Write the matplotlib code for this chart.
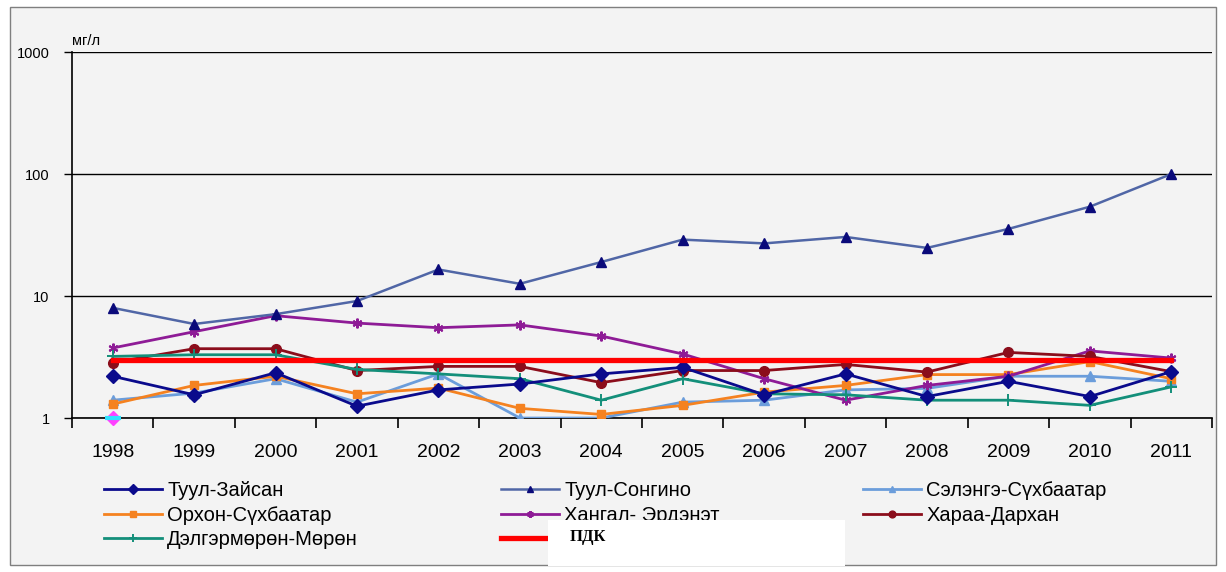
import matplotlib
matplotlib.use("Agg")
import matplotlib.pyplot as plt
from matplotlib.patches import Rectangle

plt.rcParams['font.family'] = ['Liberation Sans', 'DejaVu Sans']

years = ['1998', '1999', '2000', '2001', '2002', '2003', '2004',
         '2005', '2006', '2007', '2008', '2009', '2010', '2011']

tuul_zaisan = [2.2, 1.55, 2.35, 1.25, 1.7, 1.9, 2.3, 2.6, 1.55, 2.3, 1.5, 2.0, 1.5, 2.4]
tuul_songino = [8.0, 5.9, 7.1, 9.1, 16.5, 12.6, 19.0, 29.0, 27.0, 30.5, 24.8, 35.5, 54.0, 100.0]
selenge = [1.4, 1.6, 2.1, 1.35, 2.3, 1.0, 1.0, 1.35, 1.4, 1.7, 1.75, 2.2, 2.2, 2.0]
orhon = [1.3, 1.85, 2.2, 1.58, 1.76, 1.2, 1.07, 1.27, 1.63, 1.85, 2.27, 2.27, 2.9, 2.1]
hangal = [3.75, 5.1, 6.9, 6.0, 5.5, 5.8, 4.7, 3.35, 2.1, 1.4, 1.85, 2.2, 3.55, 3.1]
haraa = [2.85, 3.7, 3.7, 2.45, 2.65, 2.65, 1.95, 2.45, 2.45, 2.75, 2.38, 3.45, 3.2, 2.4]
delger = [3.2, 3.3, 3.3, 2.5, 2.3, 2.1, 1.4, 2.1, 1.58, 1.55, 1.4, 1.4, 1.27, 1.8]
pdk = [3.0, 3.0, 3.0, 3.0, 3.0, 3.0, 3.0, 3.0, 3.0, 3.0, 3.0, 3.0, 3.0, 3.0]
stray_point = [1.0]  # lone marker at 1998 on the axis

x = list(range(len(years)))

fig = plt.figure(figsize=(12.26, 5.72), dpi=100)
fig.patch.set_facecolor('white')
# chart frame, behind everything
frame = Rectangle((0.008, 0.012), 0.984, 0.975, transform=fig.transFigure,
                  facecolor='#f3f3f3', edgecolor='#7f7f7f', lw=1.0, zorder=-10)
fig.patches.append(frame)

ax = fig.add_axes([0.0587, 0.2692, 0.9299, 0.6398])
ax.set_facecolor('#f3f3f3')

h_zaisan, = ax.plot(x, tuul_zaisan, color='#0a0a8c', lw=2.0, marker='D', ms=7,
                    mfc='#0a0a8c', mec='#0a0a8c', zorder=5)
h_songino, = ax.plot(x, tuul_songino, color='#5066a6', lw=1.8, marker='^', ms=7,
                     mfc='#0a0a7a', mec='#0a0a7a', zorder=4)
h_selenge, = ax.plot(x, selenge, color='#6b9ddb', lw=2.0, marker='^', ms=7,
                     mfc='#6b9ddb', mec='#6b9ddb', zorder=3)
h_orhon, = ax.plot(x, orhon, color='#f58220', lw=2.0, marker='s', ms=6,
                   mfc='#f58220', mec='#f58220', zorder=3)
h_hangal, = ax.plot(x, hangal, color='#8e1b96', lw=2.0, marker=(6, 2, 0), ms=7,
                    mfc='#8e1b96', mec='#8e1b96', mew=1.5, zorder=3)
h_haraa, = ax.plot(x, haraa, color='#8b0d1b', lw=2.0, marker='o', ms=7,
                   mfc='#8b0d1b', mec='#8b0d1b', zorder=3)
h_delger, = ax.plot(x, delger, color='#138f7a', lw=2.0, marker='+', ms=8,
                    mew=1.4, zorder=3)
h_pdk, = ax.plot(x, pdk, color='#ff0000', lw=3.8, zorder=6)
ax.plot(x[:1], stray_point, ls='none', marker='D', ms=7, mfc='#ff40ff', mec='#ff40ff',
        zorder=7, clip_on=False)
ax.plot(x[:1], stray_point, ls='none', marker='_', ms=12, mew=3, mec='#30e0ff',
        zorder=8, clip_on=False)

ax.set_yscale('log')
ax.set_ylim(1, 1000)
ax.set_xlim(-0.5, len(years) - 0.5)
ax.set_yticks([1, 10, 100, 1000])
ax.set_yticklabels(['1', '10', '100', '1000'], fontsize=10.5)
ax.yaxis.set_minor_locator(matplotlib.ticker.NullLocator())
ax.tick_params(axis='y', length=6, width=1, direction='out', pad=10)
ax.grid(axis='y', color='black', lw=1.0)
ax.set_axisbelow(True)

ax.set_xticks(x)
ax.set_xticklabels(years, fontsize=14)
ax.tick_params(axis='x', which='major', length=0, pad=19)
ax.set_xticks([i - 0.5 for i in range(len(years) + 1)], minor=True)
ax.tick_params(axis='x', which='minor', length=7, width=1.2, direction='out')

for side in ['top', 'right']:
    ax.spines[side].set_visible(False)
ax.spines['left'].set_linewidth(1.2)
ax.spines['bottom'].set_linewidth(1.2)

ax.text(0.0, 1.012, 'мг/л', transform=ax.transAxes, fontsize=10.5,
        ha='left', va='bottom')

# legend, Excel row-major order rebuilt into column-major for matplotlib
handles = [h_zaisan, h_orhon, h_delger, h_songino, h_hangal, h_pdk, h_selenge, h_haraa]
labels = ['Туул-Зайсан', 'Орхон-Сүхбаатар', 'Дэлгэрмөрөн-Мөрөн',
          'Туул-Сонгино', 'Хангал- Эрдэнэт', '',
          'Сэлэнгэ-Сүхбаатар', 'Хараа-Дархан']
leg = fig.legend(handles, labels, loc='upper left', bbox_to_anchor=(0.078, 0.173),
                 ncol=3, frameon=False, fontsize=14.5, handlelength=2.9,
                 handletextpad=0.25, columnspacing=7.1, labelspacing=0.28,
                 markerscale=0.7, borderaxespad=0)

# white patch pasted over the legend with the ПДК label
fig.patches.append(Rectangle((548 / 1226, 1 - 566 / 572), 297 / 1226, 46 / 572,
                             transform=fig.transFigure, facecolor='white',
                             edgecolor='none', zorder=10))
fig.text(570 / 1226, 1 - 537 / 572, 'ПДК', fontsize=12, fontweight='bold',
         family='Liberation Serif', ha='left', va='center', zorder=11)

fig.savefig('out.png', dpi=100, facecolor='white')
